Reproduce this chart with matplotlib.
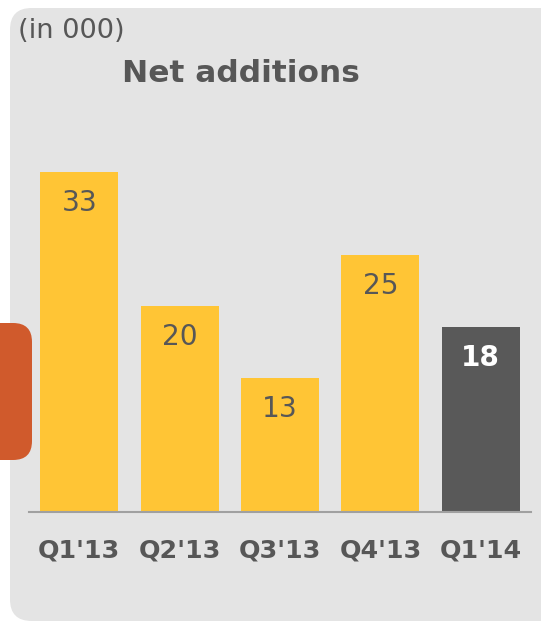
import matplotlib
matplotlib.use("Agg")
import matplotlib.pyplot as plt
from matplotlib.patches import FancyBboxPatch

categories = ["Q1'13", "Q2'13", "Q3'13", "Q4'13", "Q1'14"]
values = [33, 20, 13, 25, 18]
bar_colors = ["#FFC535", "#FFC535", "#FFC535", "#FFC535", "#595959"]
label_colors = ["#575757", "#575757", "#575757", "#575757", "#FFFFFF"]
label_weights = ["normal", "normal", "normal", "normal", "bold"]

W, H = 541, 621
dpi = 100
fig = plt.figure(figsize=(W / dpi, H / dpi), dpi=dpi, facecolor="white")

# background panel
panel = FancyBboxPatch((10 / W, 0 / H), (W + 40) / W, (H - 8) / H,
                       boxstyle="round,pad=0,rounding_size=0.04",
                       transform=fig.transFigure, facecolor="#E4E4E4",
                       edgecolor="none", zorder=-5, mutation_aspect=W / H)
fig.patches.append(panel)

# orange tab
tab = FancyBboxPatch((-30 / W, (H - 460) / H), 62 / W, 137 / H,
                     boxstyle="round,pad=0,rounding_size=0.035",
                     transform=fig.transFigure, facecolor="#D05A2C",
                     edgecolor="none", zorder=-4, mutation_aspect=W / H)
fig.patches.append(tab)

fig.text(18 / W, 1 - 31 / H, "(in 000)", fontsize=19.6, color="#575757",
         ha="left", va="center")
fig.text(241 / W, 1 - 73 / H, "Net additions", fontsize=22.5, color="#575757",
         fontweight="bold", ha="center", va="center")

ax_left, ax_right = 29, 531
ax_bottom, ax_top = 512, 100
ax = fig.add_axes([ax_left / W, 1 - ax_bottom / H, (ax_right - ax_left) / W,
                   (ax_bottom - ax_top) / H])
ax.set_zorder(2)
ax.set_facecolor("none")
x = list(range(len(categories)))
bars = ax.bar(x, values, width=0.776, color=bar_colors, zorder=2)
ax.set_xlim(-0.5, 4.5)
ax.set_ylim(0, 40)
for s in ["top", "right", "left"]:
    ax.spines[s].set_visible(False)
ax.spines["bottom"].set_color("#A0A0A0")
ax.spines["bottom"].set_linewidth(1.5)
ax.set_yticks([])
ax.set_xticks(x)
ax.set_xticklabels(categories, fontsize=18.3, fontweight="bold", color="#575757")
ax.tick_params(axis="x", length=0, pad=19)

for xi, v, c, w in zip(x, values, label_colors, label_weights):
    ax.annotate(str(v), (xi, v), xytext=(0, -22.5), textcoords="offset points",
                ha="center", va="center", fontsize=20.2, color=c, fontweight=w)

fig.savefig("out.png", dpi=dpi, facecolor="white")
